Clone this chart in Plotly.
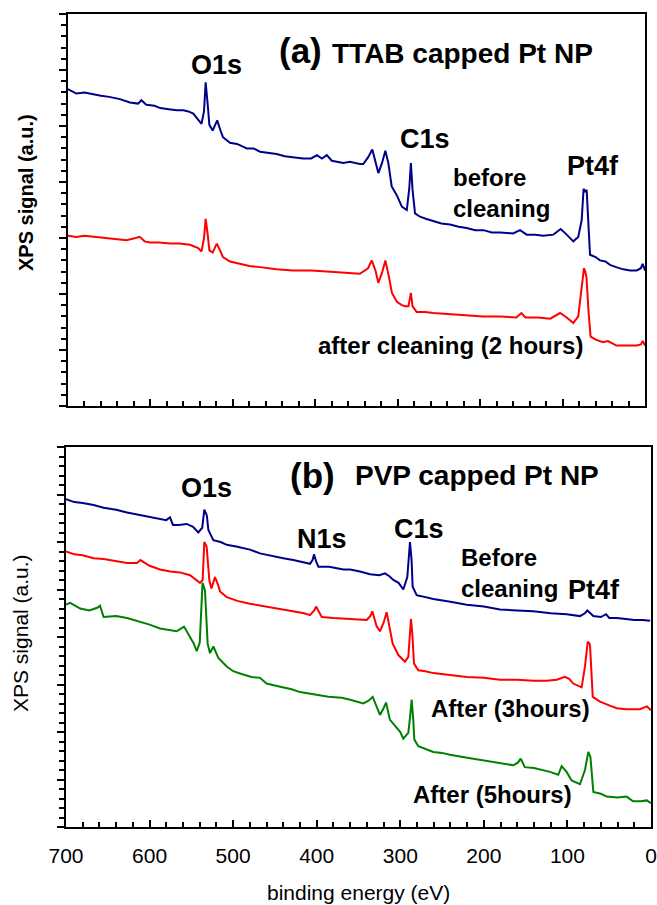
import plotly.graph_objects as go

W, H = 657, 905

# ---------------- data (binding energy eV, XPS signal a.u.) ----------------
# Panel (a) TTAB capped Pt NP
a_before_E = [700, 690, 680, 669, 660, 650, 637, 625, 615, 611, 605, 595, 588, 578, 568, 560, 554, 548, 544, 538,
              535, 533, 530.5, 528.5, 524.5, 519, 515, 512, 503.5, 495, 483, 475, 467, 457, 447, 437, 427, 415, 405,
              398, 392, 386, 380, 366, 358, 346, 341.8, 336, 330.8, 326.3, 323.5, 319, 315, 311.4, 307.3, 301, 295,
              289, 286, 284, 282, 279, 273, 265, 257, 247, 236.6, 226, 216.4, 206, 196, 186, 176, 160, 151.6, 143.5,
              133, 123.4, 111.2, 102.3, 95, 87, 81, 76.8, 74.5, 72.5, 70.8, 68.8, 66.7, 60, 54.6, 48, 42.5, 35, 26.3,
              18, 10, 5, 2.8, 0]
a_before_I = [28.3, 27.9, 28.0, 27.8, 27.7, 27.6, 27.4, 27.1, 27.0, 27.3, 26.9, 26.8, 26.6, 26.5, 26.4, 26.4, 26.3,
              26.1, 25.7, 25.2, 26.3, 28.9, 26.9, 25.1, 24.6, 25.5, 24.6, 24.0, 23.5, 23.4, 23.0, 23.0, 22.7, 22.6,
              22.5, 22.3, 22.2, 22.1, 22.1, 22.4, 22.1, 22.4, 21.9, 21.7, 21.8, 21.6, 21.6, 22.2, 22.9, 21.7, 20.8,
              21.7, 22.8, 21.7, 19.6, 18.8, 17.8, 17.5, 19.4, 21.7, 19.3, 17.2, 16.9, 16.7, 16.5, 16.3, 16.2, 16.0,
              15.9, 15.7, 15.7, 15.5, 15.5, 15.4, 15.7, 15.3, 15.3, 15.2, 15.3, 15.8, 15.3, 14.7, 15.1, 16.6, 19.4,
              19.1, 19.3, 16.3, 13.5, 13.3, 13.0, 12.9, 12.6, 12.4, 12.2, 12.1, 12.1, 12.3, 12.7, 12.1]

a_after_E = [700, 690, 680, 669, 655, 640, 629, 618, 613, 607, 600.5, 590, 576, 565, 552, 542, 538, 535, 533, 530.5,
             528.5, 524.5, 519.5, 515, 512, 503.5, 490, 480, 467, 447, 427, 405, 386, 366, 346, 336, 331.5, 327,
             323.5, 319, 315, 311.4, 307, 301, 295, 291, 287, 284, 282, 277, 267, 257, 236.6, 216, 196, 176, 156,
             150, 145, 130, 115, 103, 95, 87, 81, 77.6, 74, 72.5, 71, 68.4, 66, 59, 51, 45, 34.6, 20, 10, 5, 2.8, 0]
a_after_I = [15.2, 15.1, 15.2, 15.1, 15.0, 14.9, 14.8, 15.0, 15.1, 14.7, 14.6, 14.6, 14.5, 14.5, 14.4, 14.1, 13.8,
             15.0, 16.7, 15.3, 13.9, 13.7, 14.5, 13.8, 13.3, 12.9, 12.7, 12.5, 12.4, 12.2, 12.1, 12.1, 12.0, 11.9,
             11.8, 12.3, 13.0, 12.1, 11.0, 11.9, 13.0, 11.8, 10.1, 9.3, 9.0, 8.9, 8.9, 10.1, 8.9, 8.4, 8.4, 8.3, 8.2,
             8.1, 8.0, 8.0, 7.9, 8.3, 7.9, 7.9, 7.8, 8.3, 7.9, 7.4, 8.0, 10.1, 12.3, 12.0, 11.5, 8.3, 6.2, 5.9, 5.7,
             5.8, 5.4, 5.4, 5.4, 5.5, 5.8, 5.4]

# Panel (b) PVP capped Pt NP
b_before_E = [700, 690, 680, 667, 655, 640, 627, 615, 600, 587.5, 580, 575.6, 572, 565, 555.6, 548, 541.7, 537, 534.5,
              531.5, 529.7, 526, 523.7, 515, 507.7, 495, 480, 467.9, 455, 440, 428, 418, 408, 405, 403.2, 400.5, 398,
              385, 368.2, 360, 348.2, 336.2, 325, 318.3, 313, 308.3, 302, 296.4, 291.6, 288.4, 286.5, 285.2, 280.4,
              275, 260.5, 240, 220.5, 200, 180.7, 160, 140.8, 120, 100.9, 85, 79, 76.2, 72, 69, 60, 53.8, 50, 41, 30,
              20, 10, 1]
b_before_I = [34.5, 34.2, 34.1, 33.9, 33.6, 33.4, 33.1, 32.9, 32.6, 32.4, 32.3, 32.6, 31.8, 31.8, 31.9, 31.6, 31.0,
              31.5, 33.4, 32.8, 31.3, 30.6, 30.2, 30.0, 29.7, 29.5, 29.2, 28.8, 28.6, 28.3, 28.1, 27.9, 27.7, 28.1,
              28.7, 27.9, 27.4, 27.4, 27.1, 27.1, 26.9, 26.6, 26.5, 26.7, 26.4, 26.0, 25.7, 25.0, 26.3, 30.0, 28.1,
              25.3, 24.4, 24.3, 24.0, 23.7, 23.4, 23.2, 22.9, 22.8, 22.7, 22.5, 22.4, 22.2, 22.5, 22.8, 22.4, 22.2,
              22.1, 22.4, 22.0, 22.0, 21.9, 21.8, 21.8, 21.7]

b_3h_E = [700, 690, 680, 667, 655, 640, 627, 615, 611, 600, 587.5, 575, 563.6, 551.6, 545, 539.7, 536.5, 534.5, 531.7,
          530, 528.5, 526, 521.7, 518, 515.7, 507.7, 495, 480, 467.9, 450, 428, 415, 408, 403, 400.8, 397, 394, 380,
          360, 348, 340.2, 336, 333.4, 330.5, 328.2, 324.3, 320, 316.3, 313, 309.1, 302.3, 298, 294.4, 290.4, 287.2,
          285.5, 283.6, 278.4, 270, 260.5, 240, 220.5, 200, 180.7, 160, 140.8, 125, 112.8, 103, 98, 93, 83, 79, 75.7,
          73.5, 72.9, 69.7, 65, 61, 50, 41, 30, 13.1, 5, 2, 0]
b_3h_I = [29.0, 28.7, 28.6, 28.3, 28.2, 28.0, 27.8, 27.8, 28.1, 27.5, 27.1, 26.9, 26.8, 26.5, 26.1, 25.7, 26.0, 30.0,
          29.5, 27.6, 26.0, 25.1, 26.3, 25.5, 24.8, 24.2, 23.8, 23.5, 23.3, 23.0, 22.7, 22.5, 22.3, 22.8, 23.2, 22.5,
          22.1, 22.0, 21.9, 21.8, 21.8, 22.2, 22.7, 21.8, 21.1, 20.6, 21.5, 22.6, 21.1, 19.3, 18.1, 17.7, 17.4, 17.9,
          21.9, 20.2, 17.2, 16.5, 16.4, 16.2, 16.0, 15.8, 15.7, 15.5, 15.5, 15.4, 15.4, 15.5, 15.8, 15.6, 15.1, 14.7,
          16.9, 19.5, 19.3, 19.0, 13.7, 13.4, 13.2, 12.8, 12.5, 12.4, 12.4, 12.7, 12.5, 12.3]

b_5h_E = [700, 695, 683, 672, 662, 659.3, 655, 640, 627, 615, 600, 587.5, 575, 567.6, 558.8, 551.6, 547, 543.6, 540,
          536.6, 533.7, 530.5, 527.7, 523.7, 517.7, 507.7, 499.8, 490, 478, 467.9, 460, 445, 430, 420, 405, 386, 370,
          360, 344.2, 338, 333, 328, 324.3, 320, 317, 312.5, 304.3, 300, 296.4, 290.4, 288, 286.4, 284.5, 283.2,
          278.4, 270, 260.5, 250, 240.5, 220, 200.6, 180, 164.7, 159, 155.9, 151, 140, 120.9, 111, 106.9, 101, 95, 85,
          79, 75, 72.5, 69, 60, 53, 40, 29.1, 21.5, 12, 5.1, 0]
b_5h_I = [23.4, 23.6, 23.0, 22.8, 23.1, 23.3, 22.1, 22.2, 22.0, 21.7, 21.3, 20.9, 20.7, 20.6, 21.1, 20.0, 19.3, 18.5,
          19.4, 25.7, 24.9, 19.3, 18.3, 19.0, 17.8, 16.9, 16.4, 16.1, 15.8, 15.7, 15.1, 14.8, 14.5, 14.2, 14.0, 13.7,
          13.6, 13.4, 13.0, 13.3, 13.7, 12.5, 11.8, 12.5, 13.1, 11.3, 10.4, 10.0, 9.3, 9.9, 11.8, 13.4, 11.3, 9.2, 8.5,
          8.2, 7.9, 7.8, 7.6, 7.3, 7.0, 6.7, 6.5, 6.8, 7.2, 6.3, 6.2, 5.8, 5.5, 6.4, 5.8, 4.9, 4.5, 6.0, 7.9, 7.4, 3.7,
          3.5, 3.2, 3.1, 3.2, 2.7, 2.7, 2.8, 2.5]

x_tick_vals = [700, 600, 500, 400, 300, 200, 100, 0]
x_tick_text = ["700", "600", "500", "400", "300", "200", "100", "0"]

# ---------------- styling ----------------
NAVY = "#00008B"
RED = "#FF0000"
GREEN = "#008000"
FONT = "Liberation Sans, Arial, sans-serif"

fig = go.Figure()
fig.add_trace(go.Scatter(x=a_before_E, y=a_before_I, mode="lines", line=dict(color=NAVY, width=2),
                         xaxis="x", yaxis="y", showlegend=False))
fig.add_trace(go.Scatter(x=a_after_E, y=a_after_I, mode="lines", line=dict(color=RED, width=2),
                         xaxis="x", yaxis="y", showlegend=False))
fig.add_trace(go.Scatter(x=b_before_E, y=b_before_I, mode="lines", line=dict(color=NAVY, width=2),
                         xaxis="x2", yaxis="y2", showlegend=False))
fig.add_trace(go.Scatter(x=b_3h_E, y=b_3h_I, mode="lines", line=dict(color=RED, width=2),
                         xaxis="x2", yaxis="y2", showlegend=False))
fig.add_trace(go.Scatter(x=b_5h_E, y=b_5h_I, mode="lines", line=dict(color=GREEN, width=2),
                         xaxis="x2", yaxis="y2", showlegend=False))


def px2paper(px, py):
    return px / W, 1 - py / H


common_x = dict(range=[700, 0], showline=True, linecolor="black", linewidth=2, mirror=True,
                ticks="inside", ticklen=7, tickwidth=2, tickcolor="black", showgrid=False, zeroline=False,
                automargin=False,
                minor=dict(dtick=20, tick0=0, ticks="inside", ticklen=5, tickwidth=2, tickcolor="black",
                           showgrid=False))
common_y = dict(showline=True, linecolor="black", linewidth=2, mirror=True, ticks="outside", ticklen=7,
                tickwidth=2, tickcolor="black", showgrid=False, zeroline=False, showticklabels=False,
                automargin=False, tick0=0, dtick=5,
                minor=dict(dtick=1, tick0=0, ticks="outside", ticklen=5, tickwidth=2, tickcolor="black",
                           showgrid=False))

fig.update_layout(
    width=W, height=H,
    margin=dict(l=0, r=0, t=0, b=0),
    paper_bgcolor="white", plot_bgcolor="white",
    font=dict(family=FONT, color="black"),
    xaxis=dict(domain=[68 / W, 645 / W], anchor="y", showticklabels=False, tickvals=x_tick_vals, **common_x),
    yaxis=dict(domain=[1 - 406 / H, 1 - 14 / H], anchor="x", range=[0, 35], **common_y),
    xaxis2=dict(domain=[66 / W, 651 / W], anchor="y2", tickvals=x_tick_vals, ticktext=x_tick_text,
                ticklabelstandoff=9,
                tickfont=dict(size=21, family=FONT, color="black"), **common_x),
    yaxis2=dict(domain=[1 - 827 / H, 1 - 447 / H], anchor="x2", range=[0, 40], **common_y),
)

annotations = []


def ann(text, px, py, size, bold=True, xanchor="center", angle=0, align="center"):
    x, y = px2paper(px, py)
    t = f"<b>{text}</b>" if bold else text
    annotations.append(dict(text=t, x=x, y=y, xref="paper", yref="paper", xanchor=xanchor, yanchor="middle",
                            showarrow=False, textangle=angle, align=align,
                            font=dict(size=size, family=FONT, color="black")))


# panel (a)
ann("(a)", 300, 51, 35)
ann("TTAB capped Pt NP", 330, 53, 28, xanchor="left")
ann("O1s", 216, 65, 27)
ann("C1s", 425, 139, 27)
ann("Pt4f", 593, 166, 27)
ann("before<br>cleaning", 451, 193, 24, xanchor="left", align="left")
ann("after cleaning (2 hours)", 450, 345, 24)
ann("XPS signal (a.u.)", 26, 193, 20, angle=-90)

# panel (b)
ann("(b)", 312, 475, 35)
ann("PVP capped Pt NP", 353, 475, 28, xanchor="left")
ann("O1s", 206, 488, 27)
ann("N1s", 322, 539, 27)
ann("C1s", 419, 529, 27)
ann("Before<br>cleaning", 459, 573, 24, xanchor="left", align="left")
ann("Pt4f", 594, 590, 27)
ann("After (3hours)", 510, 708, 24)
ann("After (5hours)", 492, 794, 24)
ann("XPS signal (a.u.)", 20, 633, 21, bold=False, angle=-90)
ann("binding energy (eV)", 358, 892, 21, bold=False)

fig.update_layout(annotations=annotations)

fig.write_html("out.html", config={"displayModeBar": False, "staticPlot": True},
               post_script="document.body.style.margin='0';document.body.style.overflow='hidden';")
